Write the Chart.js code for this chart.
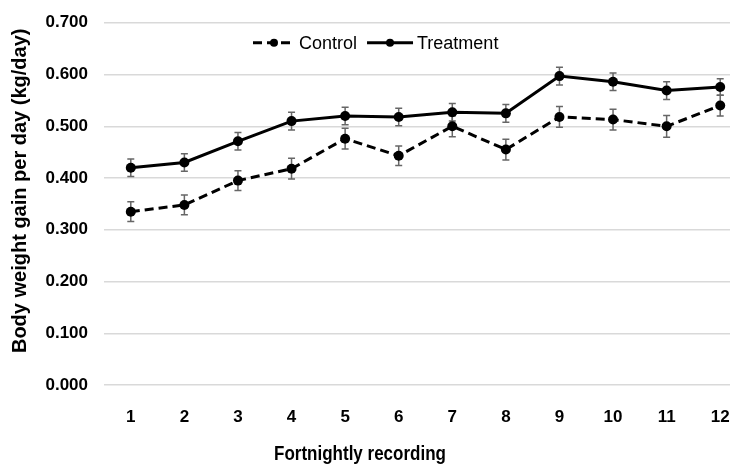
<!DOCTYPE html>
<html>
<head>
<meta charset="utf-8">
<script src="https://cdn.jsdelivr.net/npm/chart.js@4.4.0/dist/chart.umd.min.js"></script>
<style>
body { margin: 0; background: #ffffff; overflow: hidden; }
#wrap { width: 730px; height: 465px; overflow: hidden; }
</style>
</head>
<body>
<div id="wrap"><canvas id="gainChart" width="752" height="465"></canvas></div>
<script>
// data (kg/day)
const fortnights = ['1', '2', '3', '4', '5', '6', '7', '8', '9', '10', '11', '12'];
const controlGain = [0.335, 0.348, 0.395, 0.418, 0.476, 0.443, 0.500, 0.455, 0.518, 0.513, 0.500, 0.540];
const controlErr = [0.019, 0.019, 0.019, 0.020, 0.020, 0.019, 0.020, 0.020, 0.020, 0.020, 0.021, 0.020];
const treatmentGain = [0.420, 0.430, 0.471, 0.510, 0.520, 0.518, 0.527, 0.525, 0.597, 0.586, 0.569, 0.576];
const treatmentErr = [0.017, 0.017, 0.017, 0.017, 0.017, 0.017, 0.017, 0.017, 0.017, 0.017, 0.017, 0.016];
const yTickValues = [0, 0.1, 0.2, 0.3, 0.4, 0.5, 0.6, 0.7];

const baseFont = "'Liberation Sans', Arial, sans-serif";

// grey error bars, drawn under the markers
const errorBars = {
    id: 'errorBars',
    beforeDatasetsDraw(chart) {
        const ctx = chart.ctx;
        const yScale = chart.scales.y;
        ctx.save();
        ctx.strokeStyle = '#666666';
        ctx.lineWidth = 1.5;
        chart.data.datasets.forEach(function (ds, i) {
            const meta = chart.getDatasetMeta(i);
            meta.data.forEach(function (pt, j) {
                const top = yScale.getPixelForValue(ds.data[j] + ds.errors[j]);
                const bot = yScale.getPixelForValue(ds.data[j] - ds.errors[j]);
                ctx.beginPath();
                ctx.moveTo(pt.x, top);
                ctx.lineTo(pt.x, bot);
                ctx.moveTo(pt.x - 3.5, top);
                ctx.lineTo(pt.x + 3.5, top);
                ctx.moveTo(pt.x - 3.5, bot);
                ctx.lineTo(pt.x + 3.5, bot);
                ctx.stroke();
            });
        });
        ctx.restore();
    }
};

// legend sits inside the plot, slightly left of centre
const innerLegend = {
    id: 'innerLegend',
    afterDraw(chart) {
        const ctx = chart.ctx;
        const area = chart.chartArea;
        let x = area.left + 149;
        const y = area.top + 20;
        ctx.save();
        ctx.font = '18px ' + baseFont;
        ctx.textBaseline = 'middle';
        chart.data.datasets.forEach(function (ds) {
            const sampleLen = ds.borderDash.length ? 42 : 46;
            ctx.strokeStyle = '#000000';
            ctx.lineWidth = 3;
            ctx.setLineDash(ds.borderDash);
            ctx.beginPath();
            ctx.moveTo(x, y);
            ctx.lineTo(x + sampleLen, y);
            ctx.stroke();
            ctx.setLineDash([]);
            ctx.fillStyle = '#000000';
            ctx.beginPath();
            ctx.arc(x + sampleLen / 2, y, 4, 0, Math.PI * 2);
            ctx.fill();
            ctx.fillText(ds.label, x + sampleLen + 4, y + 1);
            x += sampleLen + 4 + ctx.measureText(ds.label).width + 10;
        });
        ctx.restore();
    }
};

// axis titles, placed where the original has them
const axisTitles = {
    id: 'axisTitles',
    afterDraw(chart) {
        const ctx = chart.ctx;
        const area = chart.chartArea;
        ctx.save();
        ctx.fillStyle = '#000000';
        ctx.textAlign = 'center';
        ctx.textBaseline = 'middle';
        // narrow look of the original: squeeze bold text sideways
        ctx.save();
        ctx.translate(area.left + 256, area.bottom + 69);
        ctx.scale(0.85, 1);
        ctx.font = 'bold 20px ' + baseFont;
        ctx.fillText('Fortnightly recording', 0, 0);
        ctx.restore();
        ctx.translate(20, area.top + 168);
        ctx.rotate(-Math.PI / 2);
        ctx.font = 'bold 20px ' + baseFont;
        ctx.fillText('Body weight gain per day (kg/day)', 0, 0);
        ctx.restore();
    }
};

const ctx = document.getElementById('gainChart').getContext('2d');
const gainChart = new Chart(ctx, {
    type: 'line',
    data: {
        labels: fortnights,
        datasets: [
            {
                label: 'Control',
                data: controlGain,
                errors: controlErr,
                borderColor: '#000000',
                backgroundColor: '#000000',
                borderWidth: 3,
                borderDash: [9, 5],
                pointRadius: 5,
                pointBackgroundColor: '#000000',
                pointBorderWidth: 0,
                tension: 0,
            },
            {
                label: 'Treatment',
                data: treatmentGain,
                errors: treatmentErr,
                borderColor: '#000000',
                backgroundColor: '#000000',
                borderWidth: 3,
                borderDash: [],
                pointRadius: 5,
                pointBackgroundColor: '#000000',
                pointBorderWidth: 0,
                tension: 0,
            }
        ]
    },
    options: {
        responsive: false,
        animation: false,
        layout: {
            padding: { left: 0, right: 4, top: 17, bottom: 0 }
        },
        plugins: {
            legend: { display: false },
            tooltip: { enabled: false },
        },
        scales: {
            x: {
                offset: true,
                border: { display: false },
                grid: { display: false, drawTicks: false },
                ticks: {
                    color: '#000000',
                    padding: 22,
                    maxRotation: 0,
                    autoSkip: false,
                    font: { family: baseFont, size: 17, weight: 'bold' },
                },
                afterFit: function (scale) { scale.height = 80; }
            },
            y: {
                min: 0,
                max: 0.7,
                border: { display: false },
                grid: { color: '#d9d9d9', lineWidth: 1.5, drawTicks: false },
                afterBuildTicks: function (scale) {
                    scale.ticks = yTickValues.map(function (v) { return { value: v }; });
                },
                ticks: {
                    color: '#000000',
                    padding: 16,
                    font: { family: baseFont, size: 17, weight: 'bold', lineHeight: 0.8 },
                    callback: function (value) { return value.toFixed(3); }
                },
                afterFit: function (scale) { scale.width = 104; }
            }
        }
    },
    plugins: [errorBars, innerLegend, axisTitles]
});
</script>
</body>
</html>
